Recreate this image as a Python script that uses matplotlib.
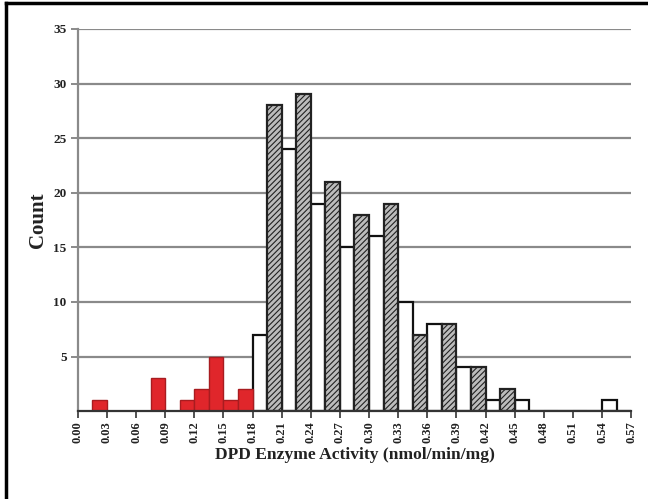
import numpy as np
import matplotlib.pyplot as plt

plt.rcParams['font.family'] = ['Liberation Serif', 'DejaVu Serif']
plt.rcParams['font.weight'] = 'bold'
plt.rcParams['hatch.linewidth'] = 0.8

# DPD activity histogram, bins of 0.015 nmol/min/mg starting at 0
bin_width = 0.015
counts = [0, 1, 0, 0, 0, 3, 0, 1, 2, 5, 1, 2,
          7, 28, 24, 29, 19, 21, 15, 18, 16, 19, 10, 7,
          8, 8, 4, 4, 1, 2, 1, 0, 0, 0, 0, 0, 1, 0]
deficient_cutoff = 0.18
xtick_vals = np.arange(0, 0.571, 0.03)
ytick_vals = [5, 10, 15, 20, 25, 30, 35]

edges = np.arange(len(counts)) * bin_width
counts = np.array(counts)

fig = plt.figure(figsize=(6.48, 4.99), dpi=100)
ax = fig.add_axes([0.120, 0.176, 0.854, 0.766])

low = edges < deficient_cutoff - 1e-9
odd = (np.arange(len(counts)) % 2) == 1
white = ~low & ~odd
hatched = ~low & odd

ax.bar(edges[white], counts[white], width=bin_width, align='edge',
       facecolor='white', edgecolor='#111111', linewidth=1.6, zorder=3)
ax.bar(edges[hatched], counts[hatched], width=bin_width, align='edge',
       facecolor='#bcbcbc', edgecolor='#222222', hatch='//////',
       linewidth=1.6, zorder=4)
ax.bar(edges[low], counts[low], width=bin_width, align='edge',
       facecolor='#e0262b', edgecolor='#a81c20', linewidth=1.0, zorder=4)

ax.set_xlim(0, 0.57)
ax.set_ylim(0, 35)
ax.set_yticks(ytick_vals)
ax.set_xticks(xtick_vals)
ax.set_xticklabels(['%.2f' % v for v in xtick_vals], rotation=90)
ax.tick_params(axis='x', length=5, width=1.2, color='#333333',
               labelsize=9, pad=2, labelcolor='#222222')
ax.tick_params(axis='y', length=5, width=1.2, color='#777777',
               labelsize=9.5, pad=3, labelcolor='#222222')

ax.grid(axis='y', color='#8a8a8a', linewidth=1.6, zorder=1)
ax.set_axisbelow(True)
for side in ('top', 'right'):
    ax.spines[side].set_visible(False)
ax.spines['left'].set_color('#8a8a8a')
ax.spines['left'].set_linewidth(1.6)
ax.spines['bottom'].set_color('#333333')
ax.spines['bottom'].set_linewidth(1.6)
ax.spines['bottom'].set_zorder(5)

ax.set_xlabel('DPD Enzyme Activity (nmol/min/mg)', fontsize=12.6,
              fontweight='bold', labelpad=3, color='#222222')
ax.set_ylabel('Count', fontsize=15, fontweight='bold', labelpad=4,
              color='#222222')

# frame on top and left edges of the figure
fig.add_artist(plt.Line2D([6 / 648, 1], [1 - 3 / 499, 1 - 3 / 499],
                          transform=fig.transFigure, color='black', lw=2.5))
fig.add_artist(plt.Line2D([6 / 648, 6 / 648], [0, 1 - 3 / 499],
                          transform=fig.transFigure, color='black', lw=2.5))

fig.savefig('out.png', dpi=100)
